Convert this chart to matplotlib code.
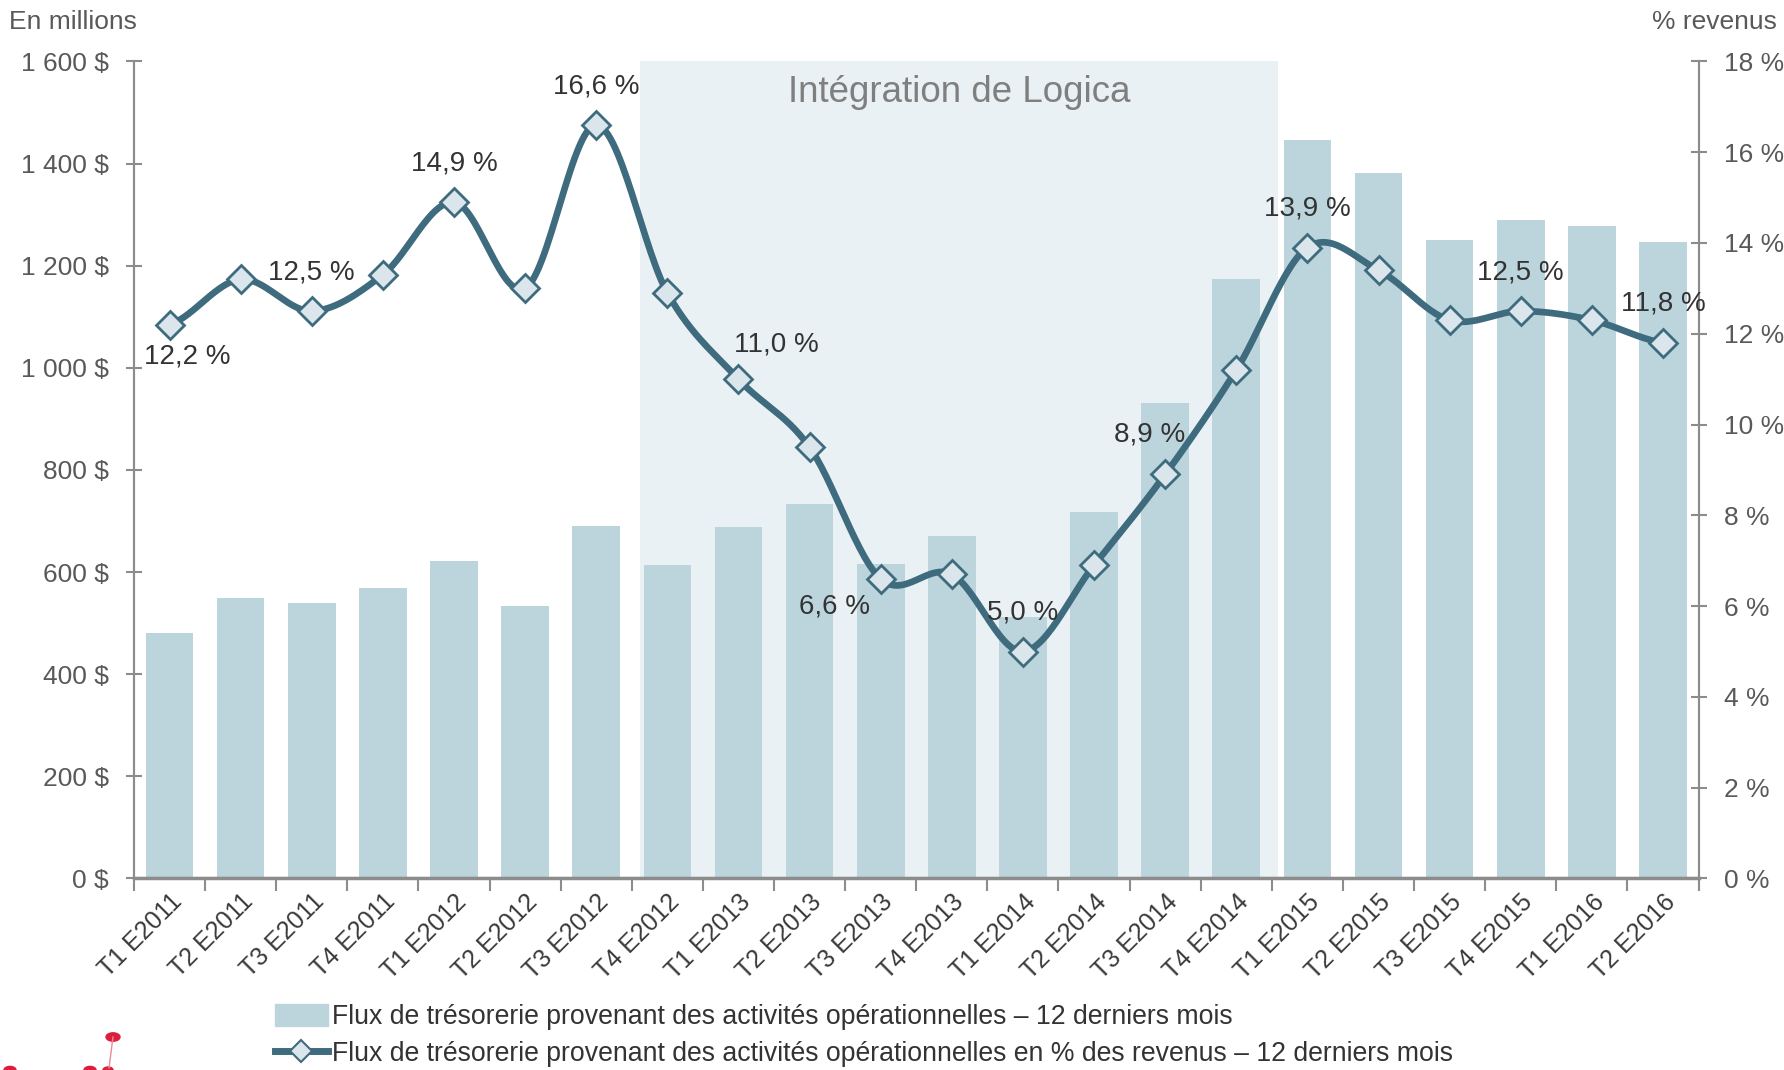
import numpy as np
import matplotlib
matplotlib.use("Agg")
from matplotlib import pyplot as plt
from matplotlib.lines import Line2D
from matplotlib.patches import Patch, Circle
from matplotlib.ticker import FuncFormatter
import matplotlib.transforms as mtransforms

plt.rcParams['font.family'] = ['Liberation Sans', 'DejaVu Sans']

trimestres = ["T1 E2011", "T2 E2011", "T3 E2011", "T4 E2011", "T1 E2012", "T2 E2012",
              "T3 E2012", "T4 E2012", "T1 E2013", "T2 E2013", "T3 E2013", "T4 E2013",
              "T1 E2014", "T2 E2014", "T3 E2014", "T4 E2014", "T1 E2015", "T2 E2015",
              "T3 E2015", "T4 E2015", "T1 E2016", "T2 E2016"]
flux = [481, 550, 539, 568, 622, 533, 691, 613, 689, 733, 615, 671,
        512, 718, 931, 1174, 1446, 1382, 1250, 1290, 1277, 1246]
pct = [12.2, 13.2, 12.5, 13.3, 14.9, 13.0, 16.6, 12.9, 11.0, 9.5, 6.6, 6.7,
       5.0, 6.9, 8.9, 11.2, 13.9, 13.4, 12.3, 12.5, 12.3, 11.8]
# étiquettes affichées : index -> décalage (points)
etiquettes = {0: (13, -23), 2: (0, 28), 4: (0, 28), 6: (0, 28), 8: (27, 25),
              10: (-33, -20), 12: (0, 28), 14: (-11, 29), 16: (0, 28),
              19: (0, 28), 21: (0, 28)}

c_bar = "#bcd5dd"
c_line = "#3e6b7e"
c_mark = "#dae6eb"
c_zone = "#e9f1f5"
c_axe = "#8c8c8c"
c_txt = "#595959"


def catmull_rom(y, n=30):
    # courbe lissée façon Excel entre les points
    p = np.concatenate([[y[0]], y, [y[-1]]])
    xs, ys = [], []
    for i in range(1, len(p) - 2):
        t = np.linspace(0, 1, n, endpoint=False)
        p0, p1, p2, p3 = p[i - 1], p[i], p[i + 1], p[i + 2]
        yy = 0.5 * ((2 * p1) + (-p0 + p2) * t + (2 * p0 - 5 * p1 + 4 * p2 - p3) * t ** 2
                    + (-p0 + 3 * p1 - 3 * p2 + p3) * t ** 3)
        xs.append(i - 1 + t)
        ys.append(yy)
    xs.append([len(y) - 1])
    ys.append([y[-1]])
    return np.concatenate(xs), np.concatenate(ys)


x = np.arange(len(trimestres))

fig = plt.figure(figsize=(17.84, 10.70), dpi=100)
ax = fig.add_axes([0.0751, 0.179, 0.877, 0.7636])
ax2 = ax.twinx()

ax.axvspan(6.62, 15.58, ymin=0, ymax=1, color=c_zone, zorder=0, lw=0)
ax.bar(x, flux, 0.67, color=c_bar, zorder=2)
ax.text(11.1, 1540, "Intégration de Logica", ha="center", va="center",
        fontsize=26.5, color="#7f7f7f", zorder=3)

ax.set_xlim(-0.5, 21.5)
ax.set_ylim(0, 1600)
ax.set_yticks(np.arange(0, 1601, 200))
ax.yaxis.set_major_formatter(FuncFormatter(lambda v, p: f"{int(v):,} $".replace(",", " ")))
ax.set_xticks(np.arange(-0.5, 22, 1))
ax.set_xticklabels([])
ax.set_xticks(x, minor=True)
ax.set_xticklabels(trimestres, minor=True, rotation=45, ha="right",
                   rotation_mode="anchor", fontsize=18, color="#3a3a3a")
decal = mtransforms.ScaledTranslation(-6 / 100, -2 / 100, fig.dpi_scale_trans)
for lab in ax.get_xticklabels(minor=True):
    lab.set_transform(lab.get_transform() + decal)
ax.tick_params(axis="x", which="minor", length=0, pad=8)
ax.tick_params(axis="x", which="major", direction="out", length=9, width=1.5, color=c_axe)
ax.tick_params(axis="y", direction="inout", length=12, width=1.5, color=c_axe,
               labelsize=19, labelcolor=c_txt, pad=12)

xs, ys = catmull_rom(np.array(pct, dtype=float))
ax2.plot(xs, ys, color=c_line, lw=4.8, zorder=4, solid_capstyle="round")
ax2.plot(x, pct, ls="none", marker="D", markersize=14, markerfacecolor=c_mark,
         markeredgecolor=c_line, markeredgewidth=2, zorder=5)
for i, (dx, dy) in etiquettes.items():
    ax2.annotate(f"{pct[i]:.1f} %".replace(".", ","), (x[i], pct[i]), xytext=(dx, dy),
                 textcoords="offset points", ha="center", va="center",
                 fontsize=20, color="#333333", zorder=6)
ax2.set_ylim(0, 18)
ax2.set_yticks(np.arange(0, 19, 2))
ax2.yaxis.set_major_formatter(FuncFormatter(lambda v, p: f"{int(v)} %"))
ax2.tick_params(axis="y", direction="inout", length=12, width=1.5, color=c_axe,
                labelsize=19, labelcolor=c_txt, pad=12)

for a in (ax, ax2):
    a.spines["top"].set_visible(False)
    for s in ("left", "right", "bottom"):
        a.spines[s].set_color(c_axe)
        a.spines[s].set_linewidth(1.5)
ax.spines["bottom"].set_linewidth(2.5)

fig.text(0.005, 0.979, "En millions", fontsize=19, color=c_txt, va="center", ha="left")
fig.text(0.996, 0.979, "% revenus", fontsize=19, color=c_txt, va="center", ha="right")

handles = [Patch(color=c_bar),
           Line2D([], [], color=c_line, lw=5, marker="D", markersize=11,
                  markerfacecolor=c_mark, markeredgecolor=c_line, markeredgewidth=1.5)]
labels = ["Flux de trésorerie provenant des activités opérationnelles – 12 derniers mois",
          "Flux de trésorerie provenant des activités opérationnelles en % des revenus – 12 derniers mois"]
fig.legend(handles, labels, loc="upper left", bbox_to_anchor=(0.148, 0.072),
           frameon=False, fontsize=19.2, labelcolor="#333333", handlelength=2.0,
           handleheight=0.9, handletextpad=0.15, labelspacing=0.42, borderaxespad=0)

# fragment du logo en bas à gauche
for cx, cy, r in [(113, 1037, 7), (90, 1070, 6), (108, 1070, 5), (10, 1070, 6)]:
    fig.patches.append(Circle((cx / 1784, 1 - cy / 1070), r / 1784, transform=fig.transFigure,
                              color="#dc1e3c", zorder=1))
fig.add_artist(Line2D([113 / 1784, 109 / 1784], [1 - 1037 / 1070, 1 - 1068 / 1070],
                      transform=fig.transFigure, color="#e88a9b", lw=1))

fig.savefig("out.png", dpi=100)
